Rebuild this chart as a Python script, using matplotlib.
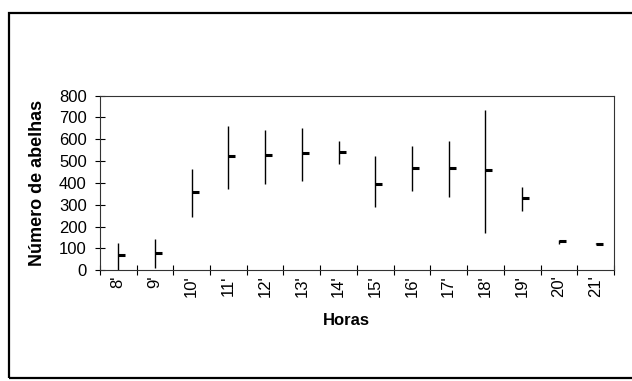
import matplotlib.pyplot as plt
from matplotlib.patches import Rectangle

# Dados (máximo, mínimo e média por hora)
horas = ["8'", "9'", "10'", "11'", "12'", "13'", "14'",
         "15'", "16'", "17'", "18'", "19'", "20'", "21'"]
maximo = [123, 143, 463, 662, 644, 650, 590, 521, 567, 593, 736, 380, 138, 125]
minimo = [0, 12, 242, 371, 395, 408, 487, 291, 361, 337, 172, 271, 120, 118]
media = [70, 80, 357, 521, 527, 536, 543, 397, 469, 467, 458, 330, 132, 121]

plt.rcParams['font.family'] = ['Liberation Sans', 'DejaVu Sans']

fig = plt.figure(figsize=(6.32, 3.81), dpi=100)
ax = fig.add_axes([0.158, 0.291, 0.8135, 0.458])

x = list(range(len(horas)))
ax.vlines(x, minimo, maximo, color='black', linewidth=1.0)
# traço da média para a direita (estilo máx-mín-fech.)
ax.plot(x, media, linestyle='none', marker=1, markersize=5,
        markeredgewidth=2.2, color='black')

ax.set_xlim(-0.5, len(horas) - 0.5)
ax.set_ylim(0, 800)
ax.set_yticks(range(0, 801, 100))

# rótulos nas categorias, marcas nas divisões
ax.set_xticks(x)
ax.set_xticklabels(horas, rotation=90, fontsize=12)
ax.set_xticks([i - 0.5 for i in range(len(horas) + 1)], minor=True)
ax.tick_params(axis='x', which='major', length=0, pad=4)
ax.tick_params(axis='x', which='minor', direction='inout', length=7, width=0.8)
ax.tick_params(axis='y', direction='inout', length=7, width=0.8, labelsize=12, pad=6)

for s in ax.spines.values():
    s.set_linewidth(0.8)
    s.set_color('#333333')

ax.set_ylabel('Número de abelhas', fontsize=13, fontweight='bold')
ax.yaxis.set_label_coords(-0.104, 0.5)
ax.set_xlabel('Horas', fontsize=12, fontweight='bold')
ax.xaxis.set_label_coords(0.479, -0.245)

# moldura da página digitalizada
fig.patches.append(Rectangle((9 / 632, 3 / 381), 1.0, 1 - 16 / 381,
                             transform=fig.transFigure, fill=False,
                             edgecolor='black', linewidth=1.6))

fig.savefig('out.png', dpi=100)
